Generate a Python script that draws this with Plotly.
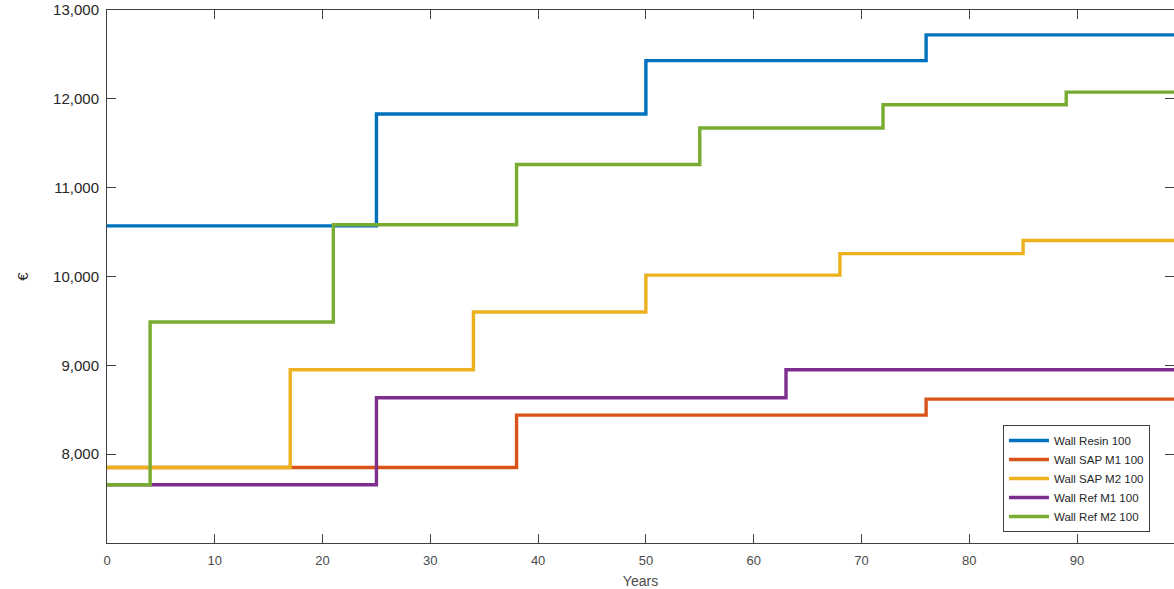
import plotly.graph_objects as go

# ---- data (step changes: year of change, cost in € after change) ----
horizon = 100

resin_years = [0, 25, 50, 76]
resin_cost = [10570, 11830, 12430, 12720]

sap_m1_years = [0, 38, 76]
sap_m1_cost = [7850, 8440, 8620]

sap_m2_years = [0, 17, 34, 50, 68, 85]
sap_m2_cost = [7850, 8950, 9600, 10015, 10258, 10405]

ref_m1_years = [0, 25, 63]
ref_m1_cost = [7655, 8635, 8950]

ref_m2_years = [0, 4, 21, 38, 55, 72, 89]
ref_m2_cost = [7655, 9487, 10582, 11260, 11672, 11933, 12075]

names = ["Wall Resin 100", "Wall SAP M1 100", "Wall SAP M2 100", "Wall Ref M1 100", "Wall Ref M2 100"]
colors = ["#0072BD", "#D95319", "#EDB120", "#7E2F8E", "#77AC30"]

y_ticks = [7000, 8000, 9000, 10000, 11000, 12000, 13000]
y_ticktext = ["", "8,000", "9,000", "10,000", "11,000", "12,000", "13,000"]
x_ticks = [0, 10, 20, 30, 40, 50, 60, 70, 80, 90]

series = [
    (resin_years, resin_cost),
    (sap_m1_years, sap_m1_cost),
    (sap_m2_years, sap_m2_cost),
    (ref_m1_years, ref_m1_cost),
    (ref_m2_years, ref_m2_cost),
]

fig = go.Figure()
for (xs, ys), name, col in zip(series, names, colors):
    fig.add_trace(go.Scatter(
        x=xs + [horizon], y=ys + [ys[-1]],
        mode="lines", line=dict(color=col, width=3.4, shape="hv"),
        name=name,
    ))

# invisible trace to carry right-hand tick marks
fig.add_trace(go.Scatter(x=[None], y=[None], yaxis="y2", showlegend=False, hoverinfo="skip"))

axis_col = "#404040"
font_main = "Liberation Sans, Arial, sans-serif"

fig.update_layout(
    width=1174, height=589,
    margin=dict(l=107, r=0, t=10, b=46, autoexpand=False),
    paper_bgcolor="white", plot_bgcolor="white",
    font=dict(family=font_main, color="#262626"),
    xaxis=dict(
        range=[0, 99.0], tickvals=x_ticks, ticks="inside", ticklen=9, tickcolor=axis_col,
        showline=True, linecolor=axis_col, linewidth=1, mirror="ticks",
        showgrid=False, zeroline=False, automargin=False,
        tickfont=dict(size=13, color="#4a4a4a"),
        ticklabelstandoff=5,
        title=dict(text="Years", font=dict(size=14, color="#4a4a4a"), standoff=9),
    ),
    yaxis=dict(
        range=[7000, 13000], tickvals=y_ticks, ticktext=y_ticktext,
        ticks="inside", ticklen=9, tickcolor=axis_col,
        showline=True, linecolor=axis_col, linewidth=1,
        showgrid=False, zeroline=False, automargin=False,
        tickfont=dict(size=15, color="#262626"),
        ticklabelstandoff=4,
        title=dict(text="€", font=dict(size=15, color="#262626"), standoff=20),
    ),
    yaxis2=dict(
        overlaying="y", side="right", range=[7000, 13000], tickvals=y_ticks,
        ticks="inside", ticklen=9, tickcolor=axis_col, showticklabels=False,
        showline=False, showgrid=False, zeroline=False, automargin=False,
    ),
    legend=dict(
        x=0.8397, y=0.2214, xanchor="left", yanchor="top",
        bgcolor="white", bordercolor="#404040", borderwidth=1,
        font=dict(size=11.5, color="#262626"), tracegroupgap=0,
        itemwidth=40,
    ),
    showlegend=True,
)

fig.write_html(
    "out.html",
    config={"displayModeBar": False},
    post_script="document.body.style.margin='0';document.body.style.overflow='hidden';",
)
